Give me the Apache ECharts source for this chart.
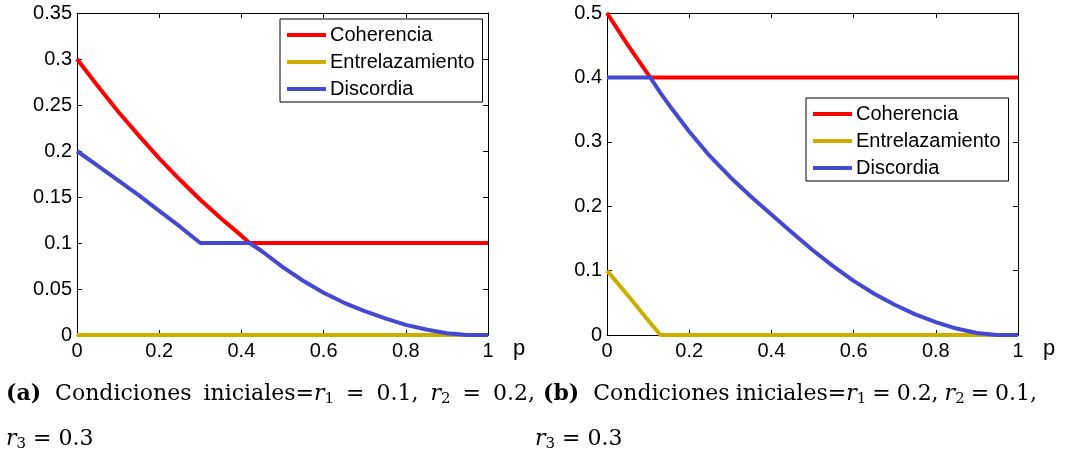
<!DOCTYPE html>
<html>
<head>
<meta charset="utf-8">
<script src="https://cdn.jsdelivr.net/npm/echarts@6/dist/echarts.min.js"></script>
<style>
  html, body { margin: 0; padding: 0; background: #fff; }
  #main { width: 1075px; height: 461px; }
</style>
</head>
<body>
<div id="main"></div>
<script>
// valores
var pA    = [0, 0.05, 0.1, 0.15, 0.2, 0.25, 0.3, 0.35, 0.4, 0.42, 0.45, 0.5, 0.55, 0.6, 0.65, 0.7, 0.75, 0.8, 0.85, 0.9, 0.95, 1];
var cohA  = [0.3, 0.271, 0.243, 0.217, 0.192, 0.169, 0.147, 0.127, 0.108, 0.1, 0.1, 0.1, 0.1, 0.1, 0.1, 0.1, 0.1, 0.1, 0.1, 0.1, 0.1, 0.1];
var entA  = [0, 0, 0, 0, 0, 0, 0, 0, 0, 0, 0, 0, 0, 0, 0, 0, 0, 0, 0, 0, 0, 0];
var discA = [0.2, 0.184, 0.168, 0.152, 0.135, 0.118, 0.1, 0.1, 0.1, 0.1, 0.091, 0.074, 0.059, 0.046, 0.035, 0.026, 0.018, 0.011, 0.006, 0.002, 0, 0];

var pB    = [0, 0.05, 0.105, 0.13, 0.15, 0.2, 0.25, 0.3, 0.35, 0.4, 0.45, 0.5, 0.55, 0.6, 0.65, 0.7, 0.75, 0.8, 0.85, 0.9, 0.95, 1];
var cohB  = [0.5, 0.451, 0.4, 0.4, 0.4, 0.4, 0.4, 0.4, 0.4, 0.4, 0.4, 0.4, 0.4, 0.4, 0.4, 0.4, 0.4, 0.4, 0.4, 0.4, 0.4, 0.4];
var entB  = [0.1, 0.062, 0.019, 0, 0, 0, 0, 0, 0, 0, 0, 0, 0, 0, 0, 0, 0, 0, 0, 0, 0, 0];
var discB = [0.4, 0.4, 0.4, 0.376, 0.358, 0.316, 0.278, 0.245, 0.215, 0.187, 0.159, 0.132, 0.107, 0.084, 0.064, 0.047, 0.032, 0.02, 0.01, 0.003, 0, 0];

var nombres = ['Coherencia', 'Entrelazamiento', 'Discordia'];
var colores = ['#ff0000', '#ccad00', '#4349d0'];

function pares(p, v) { return p.map(function (x, i) { return [x, v[i]]; }); }

var fuente = 'Liberation Sans, Arial, sans-serif';
var serif = 'DejaVu Serif, serif';
var negro = '#000';

function ejeX(grid, abajo) {
  return {
    type: 'value', gridIndex: grid, min: 0, max: 1, interval: 0.2,
    position: abajo ? 'bottom' : 'top',
    name: abajo ? 'p' : '',
    nameLocation: 'end', nameGap: 25,
    nameTextStyle: { fontSize: 22, fontFamily: fuente, color: negro, verticalAlign: 'top', padding: [3, 0, 0, 0] },
    axisLine: { show: true, onZero: false, lineStyle: { color: negro, width: 1 } },
    axisTick: { show: true, inside: true, length: 5, lineStyle: { color: negro } },
    axisLabel: { show: abajo, fontSize: 20, fontFamily: fuente, color: negro, margin: 6 },
    splitLine: { show: false }
  };
}
function ejeY(grid, izq, max, paso) {
  return {
    type: 'value', gridIndex: grid, min: 0, max: max, interval: paso,
    position: izq ? 'left' : 'right',
    axisLine: { show: true, onZero: false, lineStyle: { color: negro, width: 1 } },
    axisTick: { show: true, inside: true, length: 5, lineStyle: { color: negro } },
    axisLabel: { show: izq, fontSize: 20, fontFamily: fuente, color: negro, margin: 5 },
    splitLine: { show: false }
  };
}
function serie(i, grid, p, v) {
  return {
    name: nombres[i], type: 'line', xAxisIndex: grid * 2, yAxisIndex: grid * 2,
    data: pares(p, v), showSymbol: false, symbol: 'none',
    lineStyle: { color: colores[i], width: 4, join: 'round' }, itemStyle: { color: colores[i] }
  };
}
function leyenda(x, y) {
  return {
    orient: 'vertical', left: x, top: y, data: nombres, icon: 'rect',
    itemWidth: 39, itemHeight: 4, itemGap: 7,
    padding: [6, 8, 3, 7], borderColor: negro, borderWidth: 1, backgroundColor: '#fff',
    selectedMode: false,
    textStyle: { fontSize: 20, fontFamily: fuente, color: negro, lineHeight: 20, padding: [0, 0, 0, -1] }
  };
}

// estilos del pie de figura; g = espacio entre palabras
function rico(g) {
  return {
    b: { fontFamily: serif, fontSize: 22, fontWeight: 'bold', lineHeight: 26, fill: negro },
    n: { fontFamily: serif, fontSize: 22, lineHeight: 26, fill: negro },
    i: { fontFamily: serif, fontSize: 22, fontStyle: 'italic', lineHeight: 26, fill: negro },
    s: { fontFamily: serif, fontSize: 15, lineHeight: 15, verticalAlign: 'bottom', fill: negro },
    G: { fontSize: 22, lineHeight: 26, width: 14 },
    g: { fontSize: 22, lineHeight: 26, width: g }
  };
}
function texto(x, y, t, g) {
  return {
    type: 'text', x: x, y: y,
    style: { text: t, rich: rico(g), fontFamily: serif, fontSize: 22, fill: negro, align: 'left', verticalAlign: 'top' }
  };
}

var myChart = echarts.init(document.getElementById('main'));
var option = {
  animation: false,
  backgroundColor: '#fff',
  grid: [
    { left: 77, top: 13, width: 411, height: 322 },
    { left: 607, top: 13, width: 411, height: 322 }
  ],
  xAxis: [ejeX(0, true), ejeX(0, false), ejeX(1, true), ejeX(1, false)],
  yAxis: [ejeY(0, true, 0.35, 0.05), ejeY(0, false, 0.35, 0.05), ejeY(1, true, 0.5, 0.1), ejeY(1, false, 0.5, 0.1)],
  legend: [leyenda(280, 19), leyenda(806, 98)],
  series: [
    serie(0, 0, pA, cohA), serie(1, 0, pA, entA), serie(2, 0, pA, discA),
    serie(0, 1, pB, cohB), serie(1, 1, pB, entB), serie(2, 1, pB, discB)
  ],
  graphic: [
    texto(6, 381, '{b|(a)}{G| }{n|Condiciones}{g| }{n|iniciales=}{i|r}{s|1}{g| }{n|=}{g| }{n|0.1,}{g| }{i|r}{s|2}{g| }{n|=}{g| }{n|0.2,}', 12),
    texto(6, 426, '{i|r}{s|3}{g| }{n|=}{g| }{n|0.3}', 7),
    texto(543, 381, '{b|(b)}{G| }{n|Condiciones}{g| }{n|iniciales=}{i|r}{s|1}{g| }{n|=}{g| }{n|0.2,}{g| }{i|r}{s|2}{g| }{n|=}{g| }{n|0.1,}', 6),
    texto(535, 426, '{i|r}{s|3}{g| }{n|=}{g| }{n|0.3}', 7)
  ]
};
myChart.setOption(option);
</script>
</body>
</html>
